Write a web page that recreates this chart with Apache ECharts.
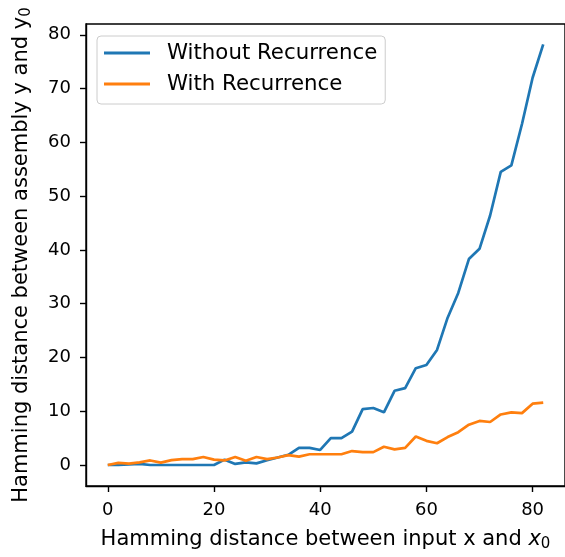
<!DOCTYPE html>
<html>
<head>
<meta charset="utf-8">
<script src="https://cdn.jsdelivr.net/npm/echarts@6/dist/echarts.min.js"></script>
<style>
  html, body { margin: 0; padding: 0; background: #fff; }
  #chart { width: 565px; height: 557px; }
</style>
</head>
<body>
<div id="chart"></div>
<script>
// hamming distance of the input from x0
const inputDist = [0, 2, 4, 6, 8, 10, 12, 14, 16, 18, 20, 22, 24, 26, 28, 30, 32, 34, 36, 38, 40,
  42, 44, 46, 48, 50, 52, 54, 56, 58, 60, 62, 64, 66, 68, 70, 72, 74, 76, 78, 80, 82]
const withoutRec = [0, 0, 0.1, 0.2, 0, 0, 0, 0, 0, 0, 0, 1.0, 0.2, 0.5, 0.3, 0.9, 1.4, 1.9, 3.2, 3.2, 2.8,
  5.0, 5.0, 6.2, 10.4, 10.6, 9.8, 13.8, 14.3, 18.0, 18.6, 21.4, 27.4, 32.0, 38.3, 40.2, 46.4, 54.5, 55.7, 63.4, 72.0, 78.2]
const withRec = [0, 0.4, 0.25, 0.5, 0.85, 0.45, 0.9, 1.1, 1.1, 1.5, 1.0, 0.85, 1.5, 0.8, 1.5, 1.1, 1.4, 1.85, 1.55, 2.0, 2.0,
  2.0, 2.0, 2.6, 2.4, 2.4, 3.4, 2.9, 3.2, 5.3, 4.5, 4.05, 5.2, 6.1, 7.5, 8.2, 8.0, 9.4, 9.8, 9.65, 11.4, 11.6]
const xTicks = [0, 20, 40, 60, 80]
const yTicks = [0, 10, 20, 30, 40, 50, 60, 70, 80]

const font = 'DejaVu Sans'

function pairs(ys) {
  return inputDist.map((x, i) => [x, ys[i]])
}

const chart = echarts.init(document.getElementById('chart'))
chart.setOption({
  animation: false,
  textStyle: { fontFamily: font },
  grid: {
    left: 86,
    top: 24,
    right: -9,
    bottom: 68,
    show: true,
    borderColor: '#000',
    borderWidth: 1.4
  },
  legend: {
    orient: 'vertical',
    left: 97,
    top: 36,
    padding: [5, 8, 8, 7],
    backgroundColor: '#fff',
    borderColor: '#cccccc',
    borderWidth: 1,
    borderRadius: 4,
    itemWidth: 46,
    itemHeight: 3,
    itemGap: 7,
    icon: 'rect',
    textStyle: { fontSize: 21.3, color: '#000', fontFamily: font, lineHeight: 24, padding: [0, 0, 0, 12] },
    data: ['Without Recurrence', 'With Recurrence']
  },
  xAxis: {
    type: 'value',
    min: -4.1,
    max: 86.1,
    splitLine: { show: false },
    axisLine: { onZero: false, lineStyle: { color: '#000', width: 1.4 } },
    axisTick: { show: true, length: 6, lineStyle: { color: '#000', width: 1.4 }, customValues: xTicks },
    axisLabel: { fontSize: 18, color: '#000', margin: 15, customValues: xTicks, fontFamily: font },
    name: 'Hamming distance between input x and {it|x}{sub|0}',
    nameLocation: 'middle',
    nameGap: 42,
    nameTextStyle: {
      fontSize: 21, color: '#000', fontFamily: font, lineHeight: 24,
      rich: {
        it: { fontSize: 21, fontStyle: 'italic', fontFamily: font, color: '#000' },
        sub: { fontSize: 15, verticalAlign: 'bottom', fontFamily: font, color: '#000', lineHeight: 24 }
      }
    }
  },
  yAxis: {
    type: 'value',
    min: -3.9,
    max: 82,
    splitLine: { show: false },
    axisLine: { onZero: false, lineStyle: { color: '#000', width: 1.4 } },
    axisTick: { show: true, length: 6, lineStyle: { color: '#000', width: 1.4 }, customValues: yTicks },
    axisLabel: { fontSize: 18, color: '#000', margin: 15, customValues: yTicks, fontFamily: font },
    name: 'Hamming distance between assembly y and y{sub|0}',
    nameLocation: 'middle',
    nameGap: 52,
    nameTextStyle: {
      fontSize: 21, color: '#000', fontFamily: font, lineHeight: 24,
      rich: {
        sub: { fontSize: 15, verticalAlign: 'bottom', fontFamily: font, color: '#000', lineHeight: 24 }
      }
    }
  },
  series: [
    {
      name: 'Without Recurrence',
      type: 'line',
      data: pairs(withoutRec),
      showSymbol: false,
      color: '#1f77b4',
      lineStyle: { width: 2.7 }
    },
    {
      name: 'With Recurrence',
      type: 'line',
      data: pairs(withRec),
      showSymbol: false,
      color: '#ff7f0e',
      lineStyle: { width: 2.7 }
    }
  ]
})
</script>
</body>
</html>
